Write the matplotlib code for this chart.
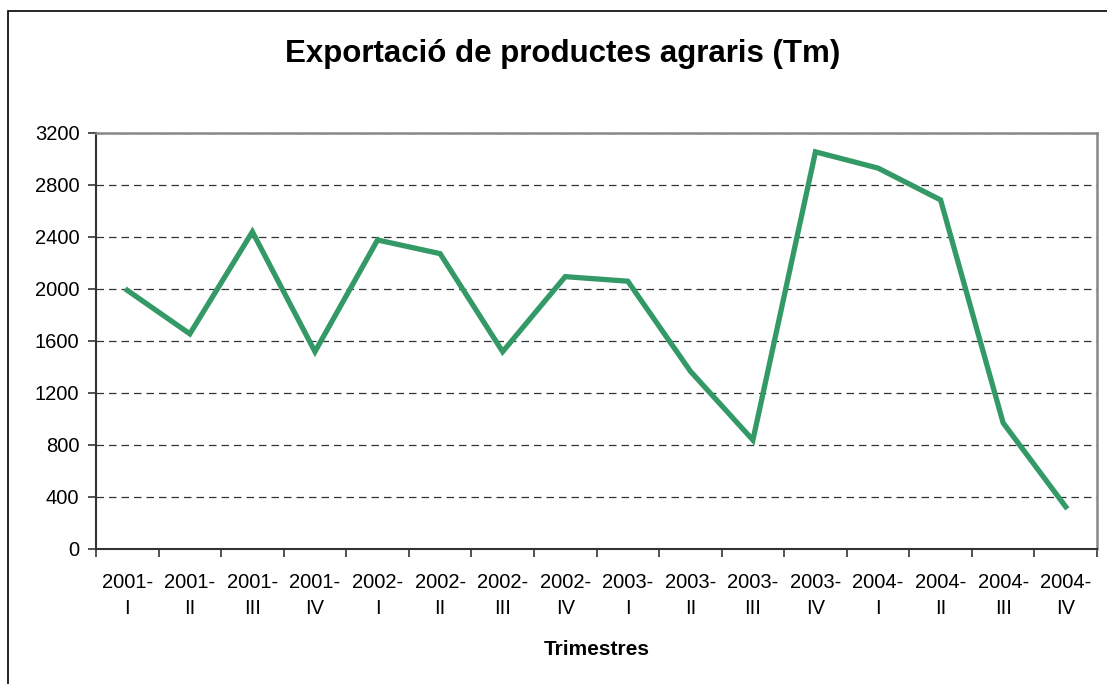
import matplotlib.pyplot as plt
from matplotlib.patches import Rectangle
import numpy as np

plt.rcParams['font.family'] = ['Liberation Sans', 'DejaVu Sans']

# Dades
trimestres = ['2001-\nI', '2001-\nII', '2001-\nIII', '2001-\nIV',
              '2002-\nI', '2002-\nII', '2002-\nIII', '2002-\nIV',
              '2003-\nI', '2003-\nII', '2003-\nIII', '2003-\nIV',
              '2004-\nI', '2004-\nII', '2004-\nIII', '2004-\nIV']
exportacio = [1990, 1655, 2440, 1518, 2377, 2272, 1518, 2095,
              2060, 1368, 838, 3055, 2930, 2685, 970, 325]

W, H = 1107, 684
fig = plt.figure(figsize=(W / 100, H / 100), dpi=100)

# marc del gràfic (surt per la dreta i per baix)
fig.patches.append(Rectangle((8 / W, -0.05), 1.2, 1 - 11 / H + 0.05,
                             transform=fig.transFigure, fill=False,
                             edgecolor='black', linewidth=1.2))

ax = fig.add_axes([96 / W, (H - 549) / H, 1001 / W, 416 / H])

x = np.arange(len(exportacio))
ax.plot(x, exportacio, color='#339966', linewidth=3.8, solid_joinstyle='miter')

ax.set_xlim(-0.5, len(exportacio) - 0.5)
ax.set_ylim(0, 3200)
ax.set_yticks(np.arange(0, 3201, 400))
ax.yaxis.grid(True, linestyle=(0, (6, 4)), color='#333333', linewidth=0.9)
ax.set_axisbelow(True)

ax.set_xticks(x)
ax.set_xticklabels(trimestres, fontsize=14.5, linespacing=1.5)
ax.set_xticks(np.arange(-0.5, len(exportacio), 1), minor=True)
ax.tick_params(axis='x', which='major', length=0, pad=17)
ax.tick_params(axis='x', which='minor', length=6, width=1.2, color='#333333', direction='out')
ax.tick_params(axis='y', labelsize=14.5, length=6, width=1.2, color='#333333', pad=6)

for s in ['left', 'bottom']:
    ax.spines[s].set_color('#333333')
    ax.spines[s].set_linewidth(1.5)
for s in ['top', 'right']:
    ax.spines[s].set_color('#888888')
    ax.spines[s].set_linewidth(1.8)

ax.set_xlabel('Trimestres', fontsize=15, fontweight='bold', labelpad=16)
fig.text(563 / W, 1 - 54 / H, 'Exportació de productes agraris (Tm)',
         fontsize=22.5, fontweight='bold', ha='center', va='center')

fig.savefig('out.png', dpi=100)
